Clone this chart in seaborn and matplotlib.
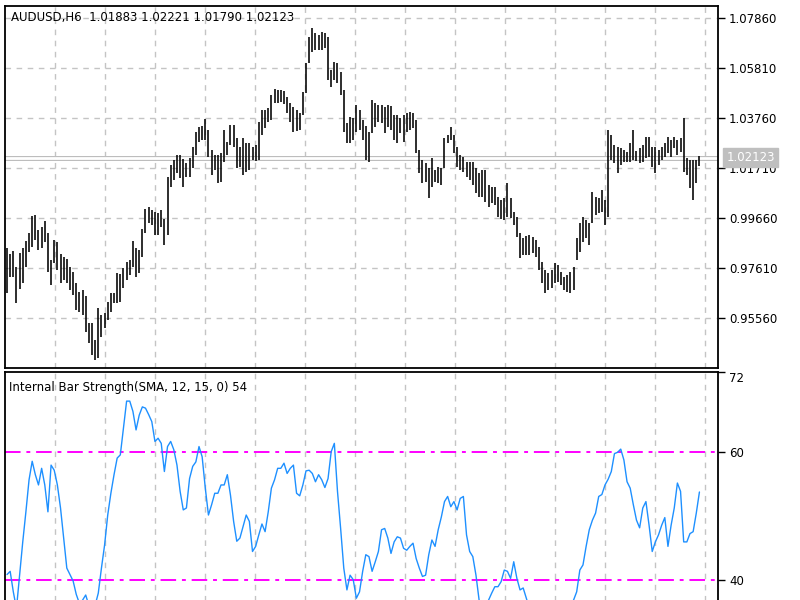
import numpy as np
import matplotlib
matplotlib.use("Agg")
import matplotlib.pyplot as plt
import seaborn as sns

# --- chart text / reference values ---
symbol_title = "AUDUSD,H6  1.01883 1.02221 1.01790 1.02123"
ind_title = "Internal Bar Strength(SMA, 12, 15, 0) 54"
last_close = 1.02123
price_ticks = [1.07860, 1.05810, 1.03760, 1.01710, 0.99660, 0.97610, 0.95560]
ibs_tick_labels = ["72", "60", "40"]
levels = [60, 40]

# --- bar highs / lows (left to right) ---
highs = [
    0.98430, 0.98184, 0.98307, 0.97651, 0.98225, 0.98430, 0.98717, 0.99045, 0.99742, 0.99783,
    0.99168, 0.99291, 0.99537, 0.99045, 0.97938, 0.98758, 0.98676, 0.98184, 0.98061, 0.97979,
    0.97651, 0.97446, 0.96995, 0.96626, 0.96708, 0.96462, 0.95355, 0.95355, 0.94658, 0.95970,
    0.95683, 0.95765, 0.96216, 0.96585, 0.96585, 0.97405, 0.97364, 0.97610, 0.97856, 0.97938,
    0.98717, 0.98430, 0.98348, 0.99209, 1.00029, 1.00111, 0.99988, 0.99906, 0.99865, 0.99988,
    0.99619, 1.01341, 1.01833, 1.02038, 1.02243, 1.02243, 1.02079, 1.01915, 1.02120, 1.02571,
    1.03186, 1.03391, 1.03432, 1.03719, 1.03268, 1.02448, 1.02243, 1.02243, 1.02325, 1.03268,
    1.02776, 1.03473, 1.03473, 1.02940, 1.02571, 1.02940, 1.02735, 1.02735, 1.02571, 1.02653,
    1.03596, 1.04088, 1.04088, 1.04170, 1.04703, 1.04949, 1.04908, 1.04908, 1.04867, 1.04621,
    1.04375, 1.04211, 1.04088, 1.03965, 1.04826, 1.06015, 1.07081, 1.07450, 1.07245, 1.07163,
    1.07286, 1.07245, 1.07081, 1.05728, 1.06056, 1.06015, 1.05646, 1.04908, 1.03555, 1.03801,
    1.03760, 1.04293, 1.04088, 1.03678, 1.03432, 1.03186, 1.04498, 1.04375, 1.04293, 1.04293,
    1.04211, 1.04293, 1.04252, 1.03883, 1.03883,
    1.03760, 1.03883, 1.03965, 1.04006, 1.03965, 1.03678, 1.02448, 1.02038, 1.01915, 1.01710,
    1.02120, 1.01628, 1.01751, 1.01710, 1.02940, 1.03063, 1.03391, 1.03063, 1.02571, 1.02243,
    1.02161, 1.01956, 1.01956, 1.01956, 1.01710, 1.01505, 1.01628, 1.01628, 1.01013, 1.00931,
    1.00931, 1.00521, 1.00398, 1.00480, 1.01095, 1.00480, 0.99906, 0.99701, 0.99045, 0.98840,
    0.98922, 0.98963, 0.98881, 0.98758, 0.98471, 0.97856, 0.97528, 0.97405, 0.97528, 0.97815,
    0.97733, 0.97446, 0.97241, 0.97323, 0.97446, 0.97651, 0.98840, 0.99455, 0.99701, 0.99578,
    0.99455, 1.00726, 1.00521, 1.00480, 1.00808, 1.00398, 1.03268, 1.03063, 1.02653, 1.02571,
    1.02530, 1.02448, 1.02366, 1.02735, 1.03268, 1.02407, 1.02530, 1.02653, 1.02981, 1.02981,
    1.02571, 1.02571, 1.02448, 1.02571, 1.02735, 1.02981, 1.02858, 1.02981, 1.02858, 1.02940,
    1.03760, 1.02120, 1.02038, 1.02038, 1.02038, 1.02221,
]
lows = [
    0.96585, 0.97241, 0.97241, 0.96175, 0.96749, 0.96995, 0.97651, 0.98266, 0.98471, 0.98758,
    0.98348, 0.98430, 0.98676, 0.97446, 0.96913, 0.97815, 0.97528, 0.96995, 0.97118, 0.96995,
    0.96708, 0.96503, 0.95888, 0.95806, 0.95683, 0.94986, 0.94535, 0.94043, 0.93838, 0.93920,
    0.94781, 0.95150, 0.95478, 0.95806, 0.96175, 0.96175, 0.96216, 0.96790, 0.97118, 0.97323,
    0.97651, 0.97241, 0.97405, 0.98061, 0.99045, 0.99455, 0.99373, 0.98963, 0.98963, 0.99291,
    0.98553, 0.98963, 1.00931, 1.01218, 1.01505, 1.01300, 1.00931, 1.01341, 1.01341, 1.01710,
    1.02243, 1.02776, 1.02858, 1.02858, 1.02161, 1.01423, 1.01628, 1.01095, 1.01136, 1.01956,
    1.02243, 1.02653, 1.02571, 1.01710, 1.01751, 1.01423, 1.01546, 1.01628, 1.02038, 1.01997,
    1.02038, 1.03063, 1.03350, 1.03596, 1.03678, 1.04375, 1.04375, 1.04416, 1.04334, 1.03965,
    1.03596, 1.03186, 1.03227, 1.03268, 1.03883, 1.04785, 1.06015, 1.06466, 1.06548, 1.06548,
    1.06548, 1.06630, 1.05318, 1.05031, 1.05318, 1.05195, 1.04703, 1.03186, 1.02735, 1.02735,
    1.02858, 1.03186, 1.03268, 1.02858, 1.02038, 1.01956, 1.03145, 1.03391, 1.03596, 1.03555,
    1.03145, 1.03391, 1.03268, 1.02858, 1.02735,
    1.03145, 1.02776, 1.03186, 1.03268, 1.03350, 1.02325, 1.01505, 1.01095, 1.01136, 1.00480,
    1.00931, 1.01136, 1.01095, 1.01013, 1.01710, 1.02735, 1.02858, 1.02325, 1.01751, 1.01628,
    1.01546, 1.01341, 1.01218, 1.01013, 1.00685, 1.00521, 1.00521, 1.00316, 1.00111, 1.00275,
    1.00193, 0.99701, 0.99619, 0.99578, 0.99701, 0.99660, 0.99373, 0.98881, 0.98020, 0.98143,
    0.98143, 0.98143, 0.98225, 0.98061, 0.97528, 0.96995, 0.96585, 0.96708, 0.96790, 0.96995,
    0.97036, 0.96913, 0.96708, 0.96626, 0.96585, 0.96708, 0.97938, 0.98266, 0.98676, 0.98840,
    0.98553, 0.99455, 0.99783, 0.99865, 0.99906, 0.99373, 0.99701, 1.02038, 1.01915, 1.01505,
    1.01833, 1.01956, 1.01956, 1.01956, 1.02038, 1.01997, 1.01915, 1.01956, 1.02120, 1.02161,
    1.01751, 1.01505, 1.01833, 1.02038, 1.02161, 1.02325, 1.02161, 1.02530, 1.02243, 1.02366,
    1.01546, 1.01423, 1.00890, 1.00398, 1.01095, 1.01790,
]

# --- Internal Bar Strength values ---
ibs = [
    40.9, 41.4, 38.2, 35.6, 40.8, 46.0, 50.7, 55.7, 58.6, 56.5,
    54.9, 57.5, 54.9, 50.7, 58.0, 57.2, 54.9, 51.3, 46.6, 41.9,
    40.9, 39.9, 37.8, 36.4, 36.9, 37.7, 36.1, 35.1, 36.1, 38.0,
    41.9, 45.5, 50.2, 53.6, 56.5, 59.1, 59.6, 63.8, 68.0, 68.0,
    66.4, 63.5, 65.8, 67.1, 66.9, 65.9, 64.8, 61.7, 62.2, 61.4,
    57.0, 60.9, 61.7, 60.4, 58.0, 53.9, 51.0, 51.3, 55.9, 57.8,
    58.5, 60.9, 59.3, 54.4, 50.2, 51.8, 53.6, 53.6, 54.9, 54.9,
    56.5, 53.3, 49.2, 46.1, 46.6, 48.4, 50.2, 49.2, 44.5, 45.3,
    47.1, 48.8, 47.6, 50.7, 54.4, 55.7, 57.5, 57.5, 58.3, 56.7,
    57.5, 58.0, 53.6, 53.2, 54.9, 57.1, 57.2, 56.7, 55.4, 56.5,
    55.7, 54.5, 55.9, 60.1, 61.4, 53.9, 48.1, 41.9, 38.5, 40.8,
    40.1, 37.2, 38.2, 41.4, 44.0, 43.7, 41.4, 42.9, 44.5, 47.9,
    48.1, 46.6, 44.2, 46.0, 46.8, 46.6, 45.0, 44.7, 45.3, 45.8,
    43.4, 41.9, 40.6, 40.8, 44.0, 46.3, 45.3, 47.9, 49.9, 52.3,
    53.1, 51.5, 52.3, 51.0, 52.8, 53.1, 47.1, 44.5, 43.7, 40.8,
    36.9, 35.9, 35.6, 36.9, 38.0, 39.0, 39.0, 39.8, 41.6, 41.4,
    40.3, 42.9, 40.3, 38.5, 38.8, 37.2, 35.6, 34.8, 34.1, 34.1,
    35.1, 34.8, 34.3, 34.6, 35.1, 35.4, 34.8, 35.4, 35.6, 36.1,
    36.9, 38.2, 41.6, 42.4, 45.3, 47.9, 49.4, 50.5, 53.1, 53.4,
    54.9, 55.8, 57.0, 59.8, 60.0, 60.5, 58.8, 55.4, 54.4, 51.8,
    49.4, 48.2, 51.3, 52.3, 48.6, 44.5, 46.0, 47.1, 48.6, 49.8,
    45.3, 48.6, 51.3, 55.2, 53.9, 46.0, 46.0, 47.3, 47.6, 50.5,
    53.8,
]

bars = np.arange(len(highs))

sns.set_style("white")
plt.rcParams['font.family'] = ['DejaVu Sans']
fs = 8.5
grid_kw = dict(color='#c4c4c4', linestyle=(0, (4, 4)), linewidth=1.0)

fig = plt.figure(figsize=(8, 6), dpi=100)
fig.patch.set_facecolor('white')
ax1 = fig.add_axes([5 / 800, 1 - 368 / 600, 713 / 800, 362 / 600])
ax2 = fig.add_axes([5 / 800, 1 - 605 / 600, 713 / 800, 233 / 600])

xlim = (-0.64, 225.9)
vgrid = np.arange(15.25, 225, 15.888)

# ---- price panel ----
ax1.vlines(bars, lows, highs, color='black', linewidth=1.15, zorder=3)
ax1.axhline(last_close, color='#bdbdbd', linewidth=3.6, zorder=1)
ax1.axhline(last_close, color='white', linewidth=2.0, zorder=1.1)
ax1.set_xlim(*xlim)
ax1.set_ylim(0.9351, 1.08352)
ax1.set_xticks(vgrid)
ax1.set_yticks(price_ticks)
ax1.set_yticklabels([f"{p:.5f}" for p in price_ticks])
ax1.yaxis.tick_right()
ax1.tick_params(axis='x', length=0, labelbottom=False)
ax1.tick_params(axis='y', direction='out', length=5, width=1, pad=3,
                labelsize=fs, colors='black')
ax1.grid(True, **grid_kw)
ax1.set_axisbelow(True)
for s in ax1.spines.values():
    s.set_color('black')
    s.set_linewidth(1.3)
ax1.text(0.0084, 0.985, symbol_title, transform=ax1.transAxes,
         ha='left', va='top', fontsize=fs, color='black')
ax1.annotate(f"{last_close:.5f}", xy=(1, last_close),
             xycoords=('axes fraction', 'data'), xytext=(6, 0),
             textcoords='offset points', ha='left', va='center',
             fontsize=fs, color='white', zorder=10, annotation_clip=False,
             bbox=dict(boxstyle='square,pad=0.25', fc='#bfbfbf', ec='#bfbfbf'))

# ---- indicator panel ----
ibs_top = 72.55
sns.lineplot(x=bars, y=ibs, ax=ax2, color='#1e90ff', linewidth=1.0, zorder=3)
for lv in levels:
    ax2.axhline(lv, color='#ff00ff', linestyle=(0, (8, 3, 2, 3)),
                linewidth=1.4, zorder=2)
ax2.set_xlim(*xlim)
ax2.set_ylim(36.14, ibs_top)
ax2.set_xticks(vgrid)
ax2.set_yticks([ibs_top, 60, 40])
ax2.set_yticklabels(ibs_tick_labels)
ax2.yaxis.tick_right()
ax2.tick_params(axis='x', length=0, labelbottom=False)
ax2.tick_params(axis='y', direction='out', length=5, width=1, pad=3,
                labelsize=fs, colors='black')
ax2.get_yticklabels()[0].set_va('top')
ax2.grid(True, axis='x', **grid_kw)
ax2.set_axisbelow(True)
ax2.set_xlabel('')
ax2.set_ylabel('')
for s in ax2.spines.values():
    s.set_color('black')
    s.set_linewidth(1.3)
ax2.text(0.0056, 0.962, ind_title, transform=ax2.transAxes,
         ha='left', va='top', fontsize=fs, color='black')

fig.savefig("out.png", dpi=100, facecolor='white')
